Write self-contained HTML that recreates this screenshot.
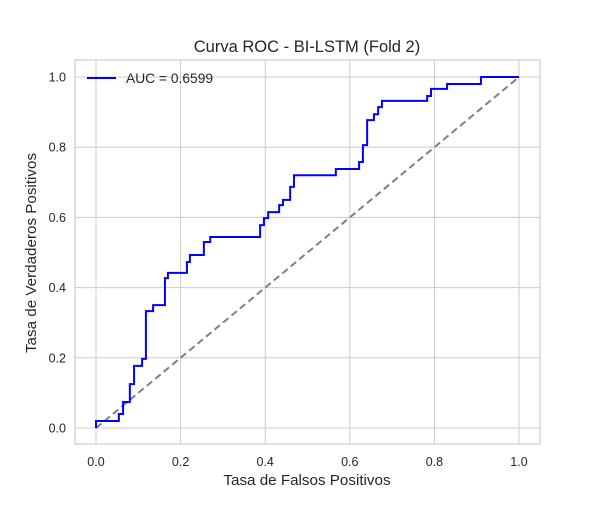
<!DOCTYPE html>
<html><head><meta charset="utf-8"><style>
body{margin:0;background:#fff;}
text{font-family:"Liberation Sans",sans-serif;fill:#262626;}
</style></head><body>
<svg id="chart" width="600" height="500" xmlns="http://www.w3.org/2000/svg">
<rect x="0" y="0" width="600" height="500" fill="#fff"/>
<text x="307" y="52" font-size="16.5" text-anchor="middle">Curva ROC - BI-LSTM (Fold 2)</text>
<g id="grid"></g>
<rect x="75" y="60" width="465" height="384" fill="none" stroke="#cccccc" stroke-width="1.2"/>
<g id="ticks"></g>
<line id="diag" stroke="#808080" stroke-width="2" stroke-dasharray="7,4"/>
<path id="roc" fill="none" stroke="#0000ff" stroke-width="2"/>
<g>
<line x1="87" y1="78" x2="116" y2="78" stroke="#0000ff" stroke-width="2"/>
<text x="126" y="83" font-size="13.8">AUC = 0.6599</text>
</g>
<text x="307" y="485" font-size="15.2" text-anchor="middle">Tasa de Falsos Positivos</text>
<text transform="translate(36,253) rotate(-90)" font-size="15.2" text-anchor="middle">Tasa de Verdaderos Positivos</text>
</svg>
<script>
const ticks=[0,0.2,0.4,0.6,0.8,1.0];
const tickLabels=["0.0","0.2","0.4","0.6","0.8","1.0"];
const fpr=[0,0,0.054,0.054,0.064,0.064,0.08,0.08,0.09,0.09,0.109,0.109,0.118,0.118,0.135,0.135,0.163,0.163,0.17,0.17,0.215,0.215,0.222,0.222,0.255,0.255,0.27,0.27,0.388,0.388,0.397,0.397,0.407,0.407,0.433,0.433,0.442,0.442,0.459,0.459,0.468,0.468,0.567,0.567,0.622,0.622,0.631,0.631,0.641,0.641,0.657,0.657,0.667,0.667,0.676,0.676,0.783,0.783,0.792,0.792,0.83,0.83,0.91,0.91,1.0];
const tpr=[0,0.02,0.02,0.04,0.04,0.074,0.074,0.125,0.125,0.177,0.177,0.197,0.197,0.333,0.333,0.35,0.35,0.427,0.427,0.442,0.442,0.473,0.473,0.493,0.493,0.53,0.53,0.544,0.544,0.578,0.578,0.598,0.598,0.615,0.615,0.635,0.635,0.65,0.65,0.687,0.687,0.72,0.72,0.738,0.738,0.758,0.758,0.806,0.806,0.877,0.877,0.894,0.894,0.914,0.914,0.932,0.932,0.946,0.946,0.966,0.966,0.98,0.98,1.0,1.0];
const X=v=>96+v*423, Y=v=>428-v*351;
const NS="http://www.w3.org/2000/svg";
const grid=document.getElementById('grid'), tg=document.getElementById('ticks');
ticks.forEach((t,i)=>{
  let l=document.createElementNS(NS,'line');
  
  
  l.setAttribute('x1',X(t));l.setAttribute('x2',X(t));l.setAttribute('y1',60);l.setAttribute('y2',444);
  l.setAttribute('stroke','#cccccc');l.setAttribute('stroke-width','1');grid.appendChild(l);
  let h=document.createElementNS(NS,'line');
  
  
  h.setAttribute('y1',Y(t));h.setAttribute('y2',Y(t));h.setAttribute('x1',75);h.setAttribute('x2',540);
  h.setAttribute('stroke','#cccccc');h.setAttribute('stroke-width','1');grid.appendChild(h);
  let tx=document.createElementNS(NS,'text');
  
  
  tx.setAttribute('x',X(t));tx.setAttribute('y',466);tx.setAttribute('font-size','12.5');tx.setAttribute('text-anchor','middle');
  tx.textContent=tickLabels[i];tg.appendChild(tx);
  let ty=document.createElementNS(NS,'text');
  
  
  ty.setAttribute('x',66);ty.setAttribute('y',Y(t)+4.5);ty.setAttribute('font-size','12.5');ty.setAttribute('text-anchor','end');
  ty.textContent=tickLabels[i];tg.appendChild(ty);
});
const d=document.getElementById('diag');
d.setAttribute('x1',X(0));d.setAttribute('y1',Y(0));d.setAttribute('x2',X(1));d.setAttribute('y2',Y(1));
document.getElementById('roc').setAttribute('d',fpr.map((v,i)=>(i?'L':'M')+X(v)+','+Y(tpr[i])).join(' '));
</script>
</body></html>
